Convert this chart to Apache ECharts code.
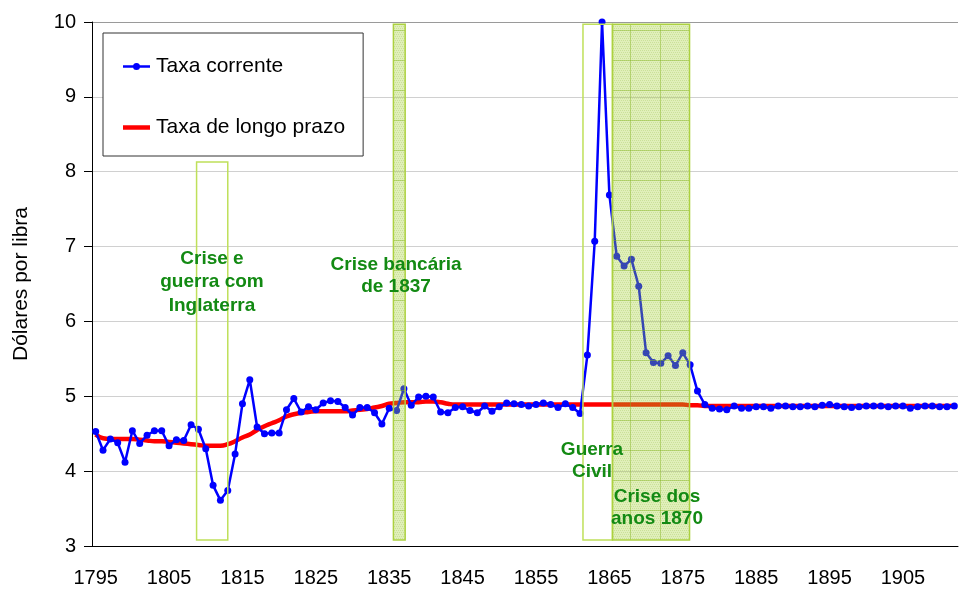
<!DOCTYPE html>
<html><head><meta charset="utf-8">
<script src="https://cdn.jsdelivr.net/npm/echarts@6/dist/echarts.min.js"></script>
<style>html,body{margin:0;padding:0;background:#fff}#chart{width:959px;height:589px}</style>
</head><body><div id="chart"></div>
<script>
// ---- data ----
const firstYear = 1795, lastYear = 1912;
const years = [];
for (let y = firstYear; y <= lastYear; y++) years.push(String(y));

const taxaCorrente = [
 4.53,4.28,4.43,4.38,4.12,4.54,4.37,4.48,4.54,4.54, // 1795-1804
 4.34,4.42,4.41,4.62,4.56,4.30,3.81,3.61,3.74,4.23, // 1805-1814
 4.90,5.22,4.59,4.50,4.51,4.51,4.82,4.97,4.79,4.86, // 1815-1824
 4.82,4.91,4.94,4.93,4.85,4.75,4.85,4.85,4.78,4.63, // 1825-1834
 4.84,4.81,5.10,4.88,4.99,5.00,4.99,4.79,4.78,4.85, // 1835-1844
 4.86,4.81,4.78,4.87,4.80,4.86,4.91,4.90,4.89,4.87, // 1845-1854
 4.89,4.91,4.89,4.85,4.90,4.85,4.77,5.55,7.07,10.00, // 1855-1864
 7.69,6.87,6.74,6.83,6.47,5.58,5.45,5.44,5.54,5.41, // 1865-1874
 5.58,5.42,5.07,4.89,4.84,4.83,4.82,4.87,4.84,4.84, // 1875-1884
 4.86,4.86,4.84,4.87,4.87,4.86,4.86,4.87,4.86,4.88, // 1885-1894
 4.89,4.87,4.86,4.85,4.86,4.87,4.87,4.87,4.86,4.87, // 1895-1904
 4.87,4.84,4.86,4.87,4.87,4.86,4.86,4.87            // 1905-1912
];
const taxaLongoPrazo = [
 4.49,4.44,4.43,4.43,4.43,4.43,4.42,4.41,4.40,4.40, // 1795-1804
 4.39,4.38,4.37,4.36,4.35,4.34,4.34,4.34,4.36,4.40, // 1805-1814
 4.45,4.49,4.55,4.60,4.64,4.68,4.73,4.76,4.78,4.79, // 1815-1824
 4.80,4.80,4.80,4.80,4.80,4.81,4.82,4.83,4.85,4.87, // 1825-1834
 4.90,4.91,4.92,4.92,4.92,4.93,4.93,4.92,4.90,4.89, // 1835-1844
 4.89,4.89,4.89,4.89,4.89,4.89,4.89,4.89,4.89,4.89, // 1845-1854
 4.89,4.89,4.89,4.89,4.89,4.89,4.89,4.89,4.89,4.89, // 1855-1864
 4.89,4.89,4.89,4.89,4.89,4.89,4.89,4.89,4.89,4.89, // 1865-1874
 4.89,4.88,4.88,4.87,4.87,4.87,4.87,4.87,4.87,4.87, // 1875-1884
 4.87,4.87,4.87,4.87,4.87,4.87,4.87,4.87,4.87,4.87, // 1885-1894
 4.87,4.87,4.87,4.87,4.87,4.87,4.87,4.87,4.87,4.87, // 1895-1904
 4.87,4.87,4.87,4.87,4.87,4.87,4.87,4.87            // 1905-1912
];
const seriesNames = ['Taxa corrente', 'Taxa de longo prazo'];
const yTicks = [3,4,5,6,7,8,9,10];

// crisis periods (in years / dollar values)
const crisisStart  = [1808.75, 1835.57, 1861.40, 1865.42];
const crisisEnd    = [1813.00, 1837.17, 1865.42, 1875.92];
const crisisBottom = [3.08, 3.08, 3.08, 3.08];
const crisisTop    = [8.13, 9.97, 9.97, 9.97];
const crisisFilled = [0, 1, 0, 1];
const crisisLabels = ['Crise e\nguerra com\nInglaterra', 'Crise bancária\nde 1837', 'Guerra\nCivil', 'Crise dos\nanos 1870'];

// ---- chart ----
function makePattern() {
  const c = document.createElement('canvas');
  c.width = 30; c.height = 30;
  const g = c.getContext('2d');
  g.fillStyle = 'rgba(160,205,40,0.32)';
  g.fillRect(0, 0, 30, 30);
  g.fillStyle = 'rgba(120,170,20,0.2)';
  for (let y = 0; y < 30; y += 2) for (let x = (y / 2) % 2; x < 30; x += 2) g.fillRect(x, y, 1, 1);
  g.fillStyle = 'rgba(130,180,30,0.45)';
  g.fillRect(0, 0, 30, 1);
  g.fillRect(0, 0, 1, 30);
  return c;
}
const pattern = { image: makePattern(), repeat: 'repeat' };
const FONT = "'Liberation Sans', Arial, sans-serif";
const green = '#138a13';
const blueIcon = 'path://M0,2L27,2L27,4.5L0,4.5Z M10,3.25A3.5,3.5 0 1,1 17,3.25A3.5,3.5 0 1,1 10,3.25Z';
const redIcon = 'path://M0,0L27,0L27,4.5L0,4.5Z';

const chart = echarts.init(document.getElementById('chart'), null, { renderer: 'canvas' });
const gridColors = yTicks.map((v, i) => i === yTicks.length - 1 ? '#9a9a9a' : '#d0d0d0');

chart.setOption({
  animation: false,
  backgroundColor: '#fff',
  textStyle: { fontFamily: FONT },
  grid: { left: 92, right: 1, top: 22, bottom: 43, containLabel: false },
  legend: {
    data: [
      { name: seriesNames[0], icon: blueIcon, itemStyle: { color: '#0000ff' } },
      { name: seriesNames[1], icon: redIcon, itemStyle: { color: '#ff0000' } }
    ],
    orient: 'vertical',
    left: 103, top: 33,
    padding: [23, 18, 18, 20],
    itemGap: 40,
    itemWidth: 27, itemHeight: 14,
    symbolKeepAspect: true,
    backgroundColor: '#fff',
    borderColor: '#333', borderWidth: 1,
    textStyle: { fontSize: 21, color: '#000', fontFamily: FONT, padding: [0, 0, 0, 1] },
    selectedMode: false
  },
  xAxis: [{
    type: 'category',
    data: years,
    boundaryGap: true,
    axisLine: { lineStyle: { color: '#000', width: 1 } },
    axisTick: { interval: 4, length: 7, lineStyle: { color: '#000' } },
    axisLabel: { interval: 9, margin: 22, fontSize: 20, color: '#000', fontFamily: FONT },
    splitLine: { show: false }
  }, {
    type: 'value', min: 1794.5, max: 1912.5, show: false
  }],
  yAxis: {
    type: 'value', min: 3, max: 10, interval: 1,
    name: 'Dólares por libra', nameLocation: 'middle', nameGap: 60,
    nameTextStyle: { fontSize: 21, color: '#000', fontFamily: FONT },
    axisLine: { show: true, lineStyle: { color: '#000', width: 1 } },
    axisTick: { show: true, length: 8, lineStyle: { color: '#000' } },
    axisLabel: { margin: 16, fontSize: 20, color: '#000', fontFamily: FONT },
    splitLine: { show: true, lineStyle: { color: gridColors, width: 1 } }
  },
  series: [{
    name: seriesNames[0], type: 'line', data: taxaCorrente, z: 3,
    symbol: 'circle', symbolSize: 7, showSymbol: true, showAllSymbol: true,
    lineStyle: { color: '#0000ff', width: 2.5 },
    itemStyle: { color: '#0000ff' }
  }, {
    name: seriesNames[1], type: 'line', data: taxaLongoPrazo, z: 2,
    symbol: 'none', smooth: true,
    lineStyle: { color: '#ff0000', width: 4.5 },
    itemStyle: { color: '#ff0000' }
  }, {
    type: 'custom', xAxisIndex: 1, yAxisIndex: 0, z: 5, silent: true,
    data: crisisStart.map((s, i) => [s, crisisEnd[i], crisisBottom[i], crisisTop[i], crisisFilled[i]]),
    renderItem: function (params, api) {
      const p0 = api.coord([api.value(0), api.value(3)]);
      const p1 = api.coord([api.value(1), api.value(2)]);
      const filled = api.value(4) === 1;
      return {
        type: 'rect',
        shape: { x: p0[0], y: p0[1], width: p1[0] - p0[0], height: p1[1] - p0[1] },
        style: { fill: filled ? pattern : 'none', stroke: filled ? '#acd140' : '#bfe05a', lineWidth: 1.5 }
      };
    }
  }],
  graphic: [
    { type: 'text', z: 100, x: 212, y: 247, style: { text: crisisLabels[0], textAlign: 'center', textVerticalAlign: 'top', fill: green, font: "bold 19px " + FONT, lineHeight: 23.5 } },
    { type: 'text', z: 100, x: 396, y: 254, style: { text: crisisLabels[1], textAlign: 'center', textVerticalAlign: 'top', fill: green, font: "bold 19px " + FONT, lineHeight: 22 } },
    { type: 'text', z: 100, x: 592, y: 439, style: { text: crisisLabels[2], textAlign: 'center', textVerticalAlign: 'top', fill: green, font: "bold 19px " + FONT, lineHeight: 22 } },
    { type: 'text', z: 100, x: 657, y: 486, style: { text: crisisLabels[3], textAlign: 'center', textVerticalAlign: 'top', fill: green, font: "bold 19px " + FONT, lineHeight: 22 } }
  ]
});
</script>
</body></html>
